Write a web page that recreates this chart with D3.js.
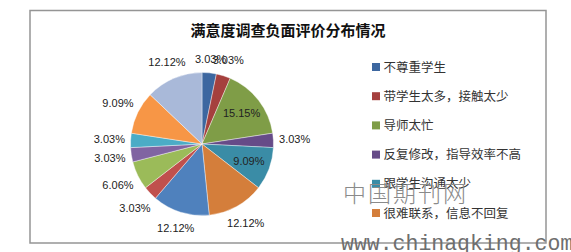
<!DOCTYPE html>
<html>
<head>
 <meta charset="UTF-8">
 <title>满意度调查负面评价分布情况</title>
 <script src="https://cdn.jsdelivr.net/npm/d3@7/dist/d3.min.js"></script>
 <style>
body {
  margin: 0;
  background: #fff;
}
svg {
  display: block;
}
.title {
  font-family: "Noto Sans CJK SC", sans-serif;
  font-size: 15px;
  font-weight: bold;
  fill: #111;
}
.legend text {
  font-family: "Noto Sans CJK SC", sans-serif;
  font-size: 12.5px;
  fill: #333;
}
.pct {
  font-family: "Liberation Sans", Arial, sans-serif;
  font-size: 11px;
  fill: #222;
}
.wm-cn {
  font-family: "Noto Sans CJK SC", sans-serif;
  font-weight: 300;
  font-size: 23px;
  letter-spacing: 2px;
  fill: #8a8a8a;
}
.wm-url {
  font-family: "Liberation Mono", monospace;
  font-size: 21.5px;
  fill: #6e6e6e;
}
 </style>
</head>
<body>
<div id="chart"></div>
<script>
// values, clockwise from 12 o'clock
var values = [3.03, 3.03, 15.15, 3.03, 9.09, 12.12, 12.12, 3.03, 6.06, 3.03, 3.03, 9.09, 12.12];
var colors = ["#3d67a0", "#a5403e", "#7f9d47", "#664b88", "#3a8ca6", "#d47e3b",
              "#4f81bd", "#c0504d", "#9bbb59", "#8064a2", "#4bacc6", "#f79646", "#a9b9d9"];
// only the first six entries fit into the legend
var legendNames = ["不尊重学生", "带学生太多，接触太少", "导师太忙", "反复修改，指导效率不高", "跟学生沟通太少", "很难联系，信息不回复"];
var insideLabels = [2, 4];
var title = "满意度调查负面评价分布情况";

var width = 571, height = 252,
  cx = 202, cy = 144, radius = 71.5;

var svg = d3.select("#chart").append("svg")
  .attr("width", width)
  .attr("height", height);

svg.append("rect")
  .attr("x", 30).attr("y", 10.5)
  .attr("width", 516).attr("height", 232.5)
  .attr("fill", "none")
  .attr("stroke", "#959595")
  .attr("stroke-width", 1.5);

svg.append("text")
  .attr("class", "title")
  .attr("x", 288).attr("y", 36)
  .attr("text-anchor", "middle")
  .text(title);

var pie = d3.pie().sort(null).value(function(d){ return d; }),
  arc = d3.arc().innerRadius(0).outerRadius(radius),
  arcs = pie(values);

var g = svg.append("g").attr("transform", "translate(" + cx + "," + cy + ")");

g.selectAll("path")
  .data(arcs)
  .enter().append("path")
  .attr("d", arc)
  .attr("fill", function(d, i){ return colors[i]; })
  .attr("stroke", "#fff")
  .attr("stroke-width", 0.4);

var fmt = function(v){ return d3.format(".2f")(v) + "%"; };

g.selectAll("text.pct")
  .data(arcs)
  .enter().append("text")
  .attr("class", "pct")
  .attr("text-anchor", "middle")
  .attr("dy", "0.35em")
  .each(function(d, i){
    var a = (d.startAngle + d.endAngle) / 2,
      s = Math.sin(a), c = -Math.cos(a), r;
    if (insideLabels.indexOf(i) >= 0) {
      r = radius * 0.7;
    } else {
      // push the label out until its box clears the rim
      r = radius + 6 + 15 * Math.abs(s) + 6 * Math.abs(c);
    }
    d3.select(this).attr("x", r * s).attr("y", r * c);
  })
  .text(function(d){ return fmt(d.data); });

var legend = svg.append("g").attr("class", "legend")
  .selectAll("g")
  .data(legendNames)
  .enter().append("g")
  .attr("transform", function(d, i){ return "translate(372," + (67 + i * 29.2) + ")"; });

legend.append("rect")
  .attr("x", 0).attr("y", -4)
  .attr("width", 8).attr("height", 8)
  .attr("fill", function(d, i){ return colors[i]; });

legend.append("text")
  .attr("x", 11.5)
  .attr("dy", "0.36em")
  .text(function(d){ return d; });

// site watermarks baked into the source picture
svg.append("text")
  .attr("class", "wm-cn")
  .attr("x", 343).attr("y", 202)
  .text("中国期刊网");

svg.append("text")
  .attr("class", "wm-url")
  .attr("x", 341).attr("y", 250)
  .text("www.chinaqking.com");
</script>
</body>
</html>
